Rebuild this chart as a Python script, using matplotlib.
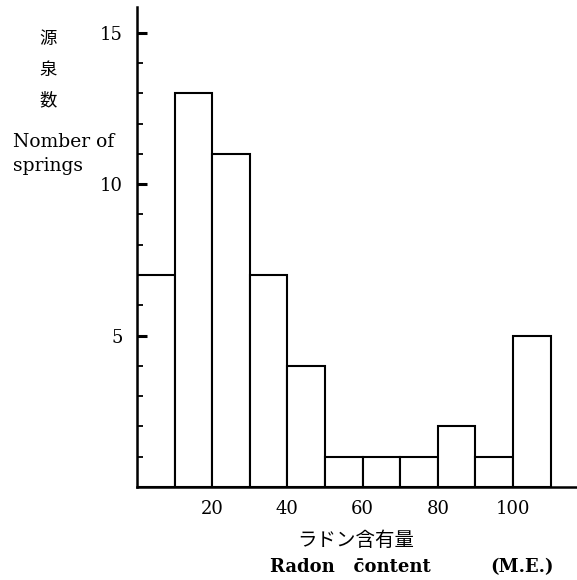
import matplotlib.pyplot as plt
import numpy as np

plt.rcParams['font.family'] = ['DejaVu Serif', 'Noto Sans CJK JP']

# histogram of radon content (M.E.) in 10-unit bins
bin_edges = [0, 10, 20, 30, 40, 50, 60, 70, 80, 90, 100, 110]
counts = [7, 13, 11, 7, 4, 1, 1, 1, 2, 1, 5]
x_ticks = [20, 40, 60, 80, 100]
y_major = [5, 10, 15]
y_minor = [1, 2, 3, 4, 6, 7, 8, 9, 11, 12, 13, 14]

fig = plt.figure(figsize=(5.77, 5.80), dpi=100)
ax = fig.add_axes([137 / 577, 93 / 580, 1 - 137 / 577, 480 / 580])

ax.bar(bin_edges[:-1], counts, width=np.diff(bin_edges), align='edge',
       facecolor='white', edgecolor='black', linewidth=1.5)

ax.set_xlim(0, 117)
ax.set_ylim(0, 15.85)

for side in ['top', 'right']:
    ax.spines[side].set_visible(False)
for side in ['left', 'bottom']:
    ax.spines[side].set_linewidth(1.8)

ax.set_xticks(x_ticks)
ax.tick_params(axis='x', length=0, pad=9, labelsize=13)
ax.set_yticks(y_major)
ax.set_yticks(y_minor, minor=True)
ax.tick_params(axis='y', which='major', direction='in', length=7, width=2.2,
               pad=10, labelsize=13)
ax.tick_params(axis='y', which='minor', direction='in', length=4, width=1.3)

# y axis label (Japanese + English)
fig.text(48 / 577, 1 - 70 / 580, '源\n泉\n数', ha='center', va='center',
         fontsize=12.5, linespacing=1.9, family=['Noto Sans CJK JP'])
fig.text(64 / 577, 1 - 154 / 580, 'Nomber of\nsprings', ha='center',
         va='center', fontsize=13.5, linespacing=1.45, multialignment='left')

# x axis label
fig.text(356 / 577, 1 - 540 / 580, 'ラドン含有量', ha='center', va='center',
         fontsize=14, family=['Noto Sans CJK JP'])
fig.text(350 / 577, 1 - 567 / 580, 'Radon   c\u0304ontent', ha='center',
         va='center', fontsize=13, fontweight='bold')
fig.text(522 / 577, 1 - 567 / 580, '(M.E.)', ha='center', va='center',
         fontsize=13, fontweight='bold')

fig.savefig('out.png', dpi=100, facecolor='white')
